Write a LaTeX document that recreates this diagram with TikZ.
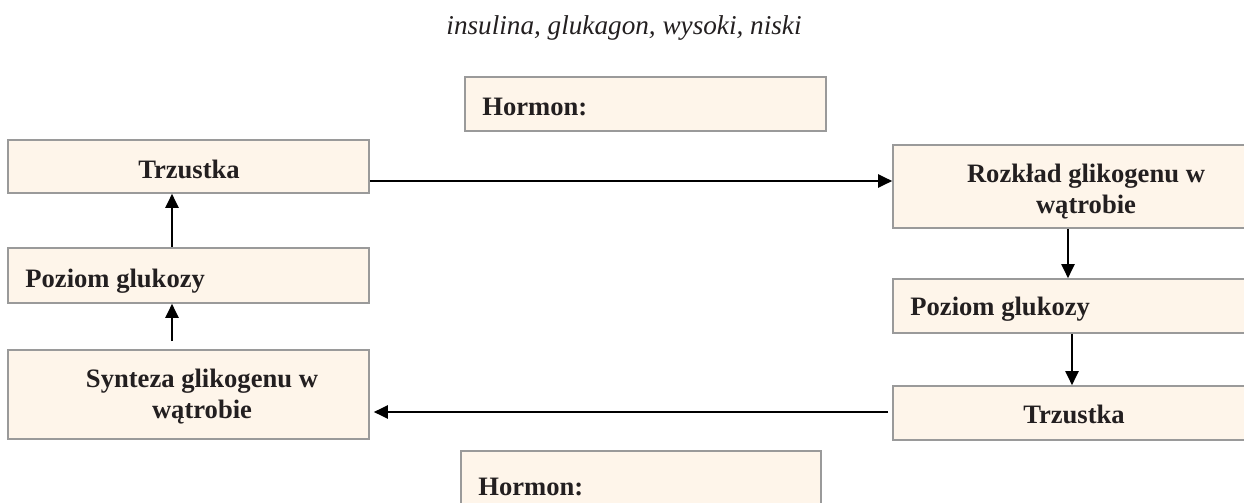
\documentclass[tikz,border=0pt]{standalone}
\usepackage{fontspec}
\setmainfont{Liberation Serif}
\usetikzlibrary{arrows.meta}
\definecolor{boxfill}{HTML}{FEF5EA}
\definecolor{boxline}{HTML}{9A9A9A}
\definecolor{ink}{HTML}{231F20}
\begin{document}
\begin{tikzpicture}[x=0.5pt,y=-0.5pt,
  box/.style 2 args={draw=boxline,fill=boxfill,line width=0.8pt,minimum width=#1*0.5pt,minimum height=#2*0.5pt,inner sep=0pt},
  lbl/.style={text=ink,font=\bfseries\fontsize{13.3}{15.5}\selectfont,inner sep=0pt},
  arr/.style={line width=1pt,-{Triangle[length=7pt,width=6.5pt]}}]
\useasboundingbox (0,0) rectangle (1244,503);
\clip (0,0) rectangle (1244,503);
% title
\node[text=ink,font=\itshape\fontsize{13.6}{15}\selectfont,inner sep=0pt,anchor=base] (title) at (624,34) {insulina, glukagon, wysoki, niski};
% boxes
\node[box={361}{54}] (hormT) at (645.5,104) {};
\node[box={361}{53}] (trzL) at (188.5,166.5) {};
\node[box={361}{55}] (pozL) at (188.5,275.5) {};
\node[box={361}{89}] (synL) at (188.5,394.5) {};
\node[box={361}{83}] (rozR) at (1073.5,186.5) {};
\node[box={361}{54}] (pozR) at (1073.5,306) {};
\node[box={361}{54}] (trzR) at (1073.5,413) {};
\node[box={360}{66}] (hormB) at (641,484) {};
% labels
\node[lbl,anchor=base west] (tHormT) at (482,115) {Hormon:};
\node[lbl,anchor=base] (tTrzL) at (189,178) {Trzustka};
\node[lbl,anchor=base west] (tPozL) at (25,287) {Poziom glukozy};
\node[lbl,anchor=base,align=center] (tSynL) at (202,418) {Synteza glikogenu w\\wątrobie};
\node[lbl,anchor=base,align=center] (tRozR) at (1086,213) {Rozkład glikogenu w\\wątrobie};
\node[lbl,anchor=base west] (tPozR) at (910,315) {Poziom glukozy};
\node[lbl,anchor=base] (tTrzR) at (1074,423) {Trzustka};
\node[lbl,anchor=base west] (tHormB) at (478,495) {Hormon:};
% helper coordinates
\coordinate (la) at (172,0);
\coordinate (ra1) at (1068,0);
\coordinate (ra2) at (1072,0);
\coordinate (ht) at (0,181);
\coordinate (hb) at (0,412);
% connectors
\draw[arr,shorten <=4pt] (synL.north -| la) -- (pozL.south -| la);
\draw[arr] (pozL.north -| la) -- (trzL.south -| la);
\draw[arr] (trzL.east |- ht) -- (rozR.west |- ht);
\draw[arr] (rozR.south -| ra1) -- (pozR.north -| ra1);
\draw[arr] (pozR.south -| ra2) -- (trzR.north -| ra2);
\draw[arr,shorten <=2pt,shorten >=2pt] (trzR.west |- hb) -- (synL.east |- hb);
\end{tikzpicture}
\end{document}
